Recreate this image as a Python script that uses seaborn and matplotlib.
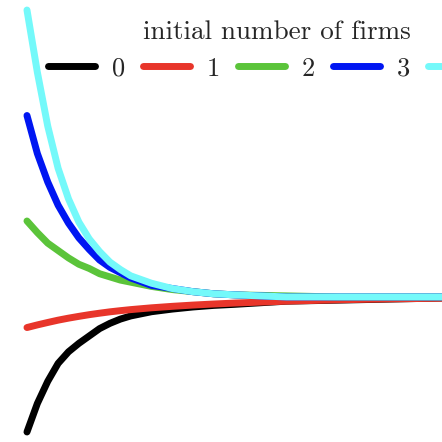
import pandas as pd
import matplotlib.pyplot as plt
import seaborn as sns

# time grid and read-off values for each initial number of firms
periods = [0, 1, 2, 3, 4, 5, 6, 7, 8, 9, 10, 12, 14, 16, 18, 20, 25, 30, 35, 40, 42]
firms_0 = [0.00, 0.27, 0.48, 0.65, 0.76, 0.84, 0.91, 0.98, 1.03, 1.07, 1.10,
           1.14, 1.165, 1.185, 1.20, 1.21, 1.24, 1.25, 1.26, 1.27, 1.27]
firms_1 = [0.99, 1.015, 1.038, 1.06, 1.079, 1.096, 1.112, 1.126, 1.139, 1.150, 1.160,
           1.177, 1.191, 1.203, 1.213, 1.222, 1.240, 1.253, 1.262, 1.268, 1.27]
firms_2 = [2.00, 1.89, 1.79, 1.72, 1.65, 1.59, 1.55, 1.50, 1.47, 1.44, 1.42,
           1.38, 1.35, 1.33, 1.31, 1.30, 1.29, 1.28, 1.28, 1.28, 1.28]
firms_3 = [3.00, 2.64, 2.37, 2.15, 1.98, 1.84, 1.73, 1.63, 1.56, 1.51, 1.46,
           1.39, 1.36, 1.33, 1.31, 1.30, 1.28, 1.28, 1.28, 1.28, 1.28]
firms_4 = [4.00, 3.41, 2.90, 2.50, 2.21, 1.99, 1.83, 1.71, 1.61, 1.54, 1.48,
           1.41, 1.36, 1.33, 1.31, 1.30, 1.28, 1.28, 1.28, 1.28, 1.28]
labels = ["0", "1", "2", "3", "4"]
colors = ["#000000", "#E8352A", "#5BC43A", "#0016F2", "#74F9FA"]

rows = []
for lab, vals in zip(labels, [firms_0, firms_1, firms_2, firms_3, firms_4]):
    for t, v in zip(periods, vals):
        rows.append({"t": t, "value": v, "initial number of firms": lab})
df = pd.DataFrame(rows)

sns.set_style("white")
plt.rcParams["font.family"] = ["cmr10", "DejaVu Serif"]
plt.rcParams["axes.formatter.use_mathtext"] = True

fig = plt.figure(figsize=(4.42, 4.42), dpi=100)
ax = fig.add_axes([0, 0, 1, 1])

sns.lineplot(data=df, x="t", y="value", hue="initial number of firms",
             palette=colors, linewidth=5, solid_capstyle="round", ax=ax)

ax.set_xlim(-2.6, 40)
ax.set_ylim(-0.095, 4.095)
ax.axis("off")

handles, _ = ax.get_legend_handles_labels()
leg = ax.legend(handles, labels, title="initial number of firms", ncol=5,
                loc="upper left", bbox_to_anchor=(48 / 442, 1 - 20 / 442),
                frameon=False, fontsize=19, title_fontsize=19.5,
                handlelength=1.78, handletextpad=0.64, columnspacing=0.68,
                borderpad=0, borderaxespad=0)
for h in leg.legend_handles:
    h.set_linewidth(5)
    h.set_solid_capstyle("round")

fig.savefig("out.png", dpi=100)
